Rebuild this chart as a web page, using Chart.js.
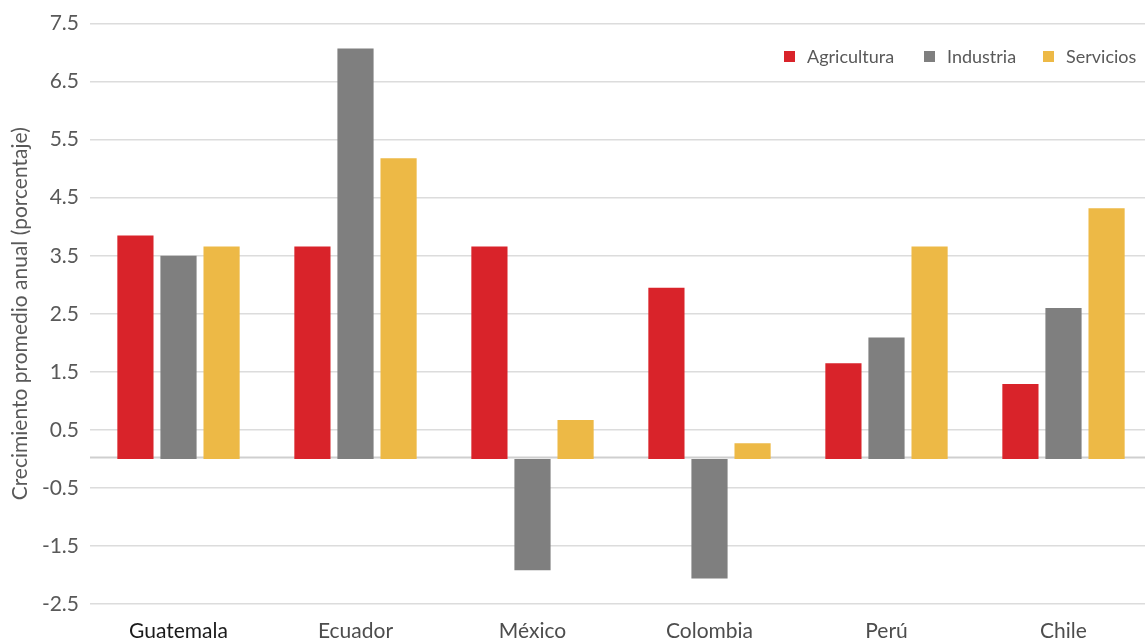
<!DOCTYPE html>
<html lang="es">
<head>
<meta charset="utf-8">
<title>Crecimiento promedio anual por sector</title>
<script src="https://cdn.jsdelivr.net/npm/chart.js@4/dist/chart.umd.min.js"></script>
<style>
  html, body { margin: 0; padding: 0; background: #fff; overflow: hidden; }
  #wrap { width: 1152px; height: 640px; }
</style>
</head>
<body>
<div id="wrap"><canvas id="growthChart" width="1152" height="640"></canvas></div>
<script>
const countries = ["Guatemala", "Ecuador", "México", "Colombia", "Perú", "Chile"];
const agricultura = [3.85, 3.66, 3.66, 2.95, 1.65, 1.29];
const industria = [3.5, 7.07, -1.92, -2.06, 2.09, 2.6];
const servicios = [3.66, 5.18, 0.67, 0.27, 3.66, 4.32];
const yTicks = [-2.5, -1.5, -0.5, 0.5, 1.5, 2.5, 3.5, 4.5, 5.5, 6.5, 7.5];

const FONT = "Lato, 'Open Sans', sans-serif";

// zero line across the plot
const zeroLine = {
  id: "zeroLine",
  beforeDatasetsDraw(chart) {
    const { ctx, chartArea, scales } = chart;
    const y = Math.round(scales.y.getPixelForValue(0)) - 1.5;
    ctx.save();
    ctx.strokeStyle = "#cfcfcf";
    ctx.lineWidth = 2;
    ctx.beginPath();
    ctx.moveTo(chartArea.left, y);
    ctx.lineTo(chartArea.right, y);
    ctx.stroke();
    ctx.restore();
  }
};

// legend drawn inside the plot, top right
const cornerLegend = {
  id: "cornerLegend",
  afterDraw(chart) {
    const { ctx } = chart;
    const items = [
      { x: 784, ds: chart.data.datasets[0] },
      { x: 924, ds: chart.data.datasets[1] },
      { x: 1043, ds: chart.data.datasets[2] }
    ];
    ctx.save();
    ctx.font = "18px " + FONT;
    ctx.textBaseline = "middle";
    items.forEach(it => {
      ctx.fillStyle = it.ds.backgroundColor;
      ctx.fillRect(it.x, 51, 11, 11);
      ctx.fillStyle = "#595959";
      ctx.fillText(it.ds.label, it.x + 23, 57);
    });
    ctx.restore();
  }
};

new Chart(document.getElementById("growthChart"), {
  type: "bar",
  data: {
    labels: countries,
    datasets: [
      { label: "Agricultura", data: agricultura, backgroundColor: "#d9232a" },
      { label: "Industria", data: industria, backgroundColor: "#7f7f7f" },
      { label: "Servicios", data: servicios, backgroundColor: "#edb946" }
    ]
  },
  options: {
    responsive: false,
    animation: false,
    categoryPercentage: 0.73,
    barPercentage: 0.84,
    layout: { padding: { top: 21, right: 0, bottom: 0, left: 0 } },
    plugins: {
      legend: { display: false },
      tooltip: { enabled: false }
    },
    scales: {
      x: {
        grid: { display: false, drawTicks: false },
        border: { display: false },
        ticks: {
          padding: 15,
          color: ctx => ctx.index === 0 ? "#1a1a1a" : "#4d4d4d",
          font: { family: FONT, size: 21 }
        },
        afterFit: s => { s.height = 36; }
      },
      y: {
        min: -2.5,
        max: 7.5,
        afterBuildTicks: s => { s.ticks = yTicks.map(v => ({ value: v })); },
        grid: { color: "#dcdcdc", lineWidth: 1.5, drawTicks: false },
        border: { display: false },
        ticks: {
          padding: 11,
          color: "#595959",
          font: { family: FONT, size: 21 },
          callback: v => v.toFixed(1)
        },
        title: {
          display: true,
          text: "Crecimiento promedio anual (porcentaje)",
          color: "#595959",
          font: { family: FONT, size: 21 },
          padding: { top: 8, bottom: 0 }
        },
        afterFit: s => { s.width = 90; }
      }
    }
  },
  plugins: [zeroLine, cornerLegend]
});
</script>
</body>
</html>
